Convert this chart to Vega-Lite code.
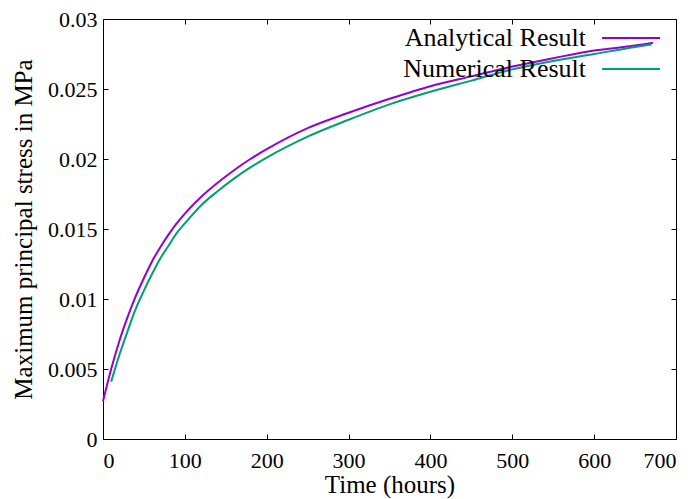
{
  "$schema": "https://vega.github.io/schema/vega-lite/v6.json",
  "width": 573,
  "height": 420,
  "autosize": "none",
  "padding": {"left": 103, "top": 19, "right": 22, "bottom": 60},
  "config": {
    "font": "Liberation Serif",
    "view": {"stroke": "black", "strokeWidth": 1},
    "axis": {
      "grid": false,
      "domain": false,
      "tickColor": "black",
      "tickSize": -5,
      "labelFont": "Liberation Serif",
      "labelFontSize": 22,
      "labelColor": "black",
      "titleFont": "Liberation Serif",
      "titleFontSize": 25,
      "titleFontWeight": "normal",
      "titleColor": "black"
    }
  },
  "data": {
    "values": [
      {"t": 0, "s": 0.0027, "series": "Analytical Result"},
      {"t": 10, "s": 0.005, "series": "Analytical Result"},
      {"t": 20, "s": 0.007, "series": "Analytical Result"},
      {"t": 30, "s": 0.0087, "series": "Analytical Result"},
      {"t": 40, "s": 0.0102, "series": "Analytical Result"},
      {"t": 50, "s": 0.0115, "series": "Analytical Result"},
      {"t": 60, "s": 0.0127, "series": "Analytical Result"},
      {"t": 70, "s": 0.0137, "series": "Analytical Result"},
      {"t": 80, "s": 0.0146, "series": "Analytical Result"},
      {"t": 90, "s": 0.0154, "series": "Analytical Result"},
      {"t": 100, "s": 0.0161, "series": "Analytical Result"},
      {"t": 120, "s": 0.0173, "series": "Analytical Result"},
      {"t": 140, "s": 0.0183, "series": "Analytical Result"},
      {"t": 160, "s": 0.0192, "series": "Analytical Result"},
      {"t": 180, "s": 0.02, "series": "Analytical Result"},
      {"t": 200, "s": 0.0207, "series": "Analytical Result"},
      {"t": 250, "s": 0.0222, "series": "Analytical Result"},
      {"t": 300, "s": 0.0233, "series": "Analytical Result"},
      {"t": 350, "s": 0.0243, "series": "Analytical Result"},
      {"t": 400, "s": 0.0252, "series": "Analytical Result"},
      {"t": 450, "s": 0.0259, "series": "Analytical Result"},
      {"t": 500, "s": 0.0266, "series": "Analytical Result"},
      {"t": 550, "s": 0.0272, "series": "Analytical Result"},
      {"t": 600, "s": 0.02775, "series": "Analytical Result"},
      {"t": 650, "s": 0.0281, "series": "Analytical Result"},
      {"t": 672, "s": 0.0283, "series": "Analytical Result"},
      {"t": 10, "s": 0.0041, "series": "Numerical Result"},
      {"t": 20, "s": 0.006, "series": "Numerical Result"},
      {"t": 30, "s": 0.0077, "series": "Numerical Result"},
      {"t": 40, "s": 0.0093, "series": "Numerical Result"},
      {"t": 50, "s": 0.0106, "series": "Numerical Result"},
      {"t": 60, "s": 0.0118, "series": "Numerical Result"},
      {"t": 70, "s": 0.0129, "series": "Numerical Result"},
      {"t": 80, "s": 0.0138, "series": "Numerical Result"},
      {"t": 90, "s": 0.0147, "series": "Numerical Result"},
      {"t": 100, "s": 0.0154, "series": "Numerical Result"},
      {"t": 120, "s": 0.0167, "series": "Numerical Result"},
      {"t": 140, "s": 0.0177, "series": "Numerical Result"},
      {"t": 160, "s": 0.0186, "series": "Numerical Result"},
      {"t": 180, "s": 0.0194, "series": "Numerical Result"},
      {"t": 200, "s": 0.0201, "series": "Numerical Result"},
      {"t": 250, "s": 0.0216, "series": "Numerical Result"},
      {"t": 300, "s": 0.0228, "series": "Numerical Result"},
      {"t": 350, "s": 0.0239, "series": "Numerical Result"},
      {"t": 400, "s": 0.0248, "series": "Numerical Result"},
      {"t": 450, "s": 0.0256, "series": "Numerical Result"},
      {"t": 500, "s": 0.0264, "series": "Numerical Result"},
      {"t": 550, "s": 0.027, "series": "Numerical Result"},
      {"t": 600, "s": 0.0275, "series": "Numerical Result"},
      {"t": 650, "s": 0.028, "series": "Numerical Result"},
      {"t": 670, "s": 0.02818, "series": "Numerical Result"}
    ]
  },
  "layer": [
    {
      "mark": {"type": "line", "strokeWidth": 2, "interpolate": "monotone"},
      "encoding": {
        "x": {
          "field": "t", "type": "quantitative",
          "scale": {"domain": [0, 700], "nice": false, "zero": false},
          "axis": {"orient": "bottom", "values": [0, 100, 200, 300, 400, 500, 600, 700], "title": "Time (hours)", "labelPadding": 16, "titlePadding": 1}
        },
        "y": {
          "field": "s", "type": "quantitative",
          "scale": {"domain": [0, 0.03], "nice": false, "zero": false},
          "axis": {"orient": "left", "values": [0, 0.005, 0.01, 0.015, 0.02, 0.025, 0.03], "format": "~g", "title": "Maximum principal stress in MPa", "labelPadding": 11, "titlePadding": 11}
        },
        "color": {
          "field": "series", "type": "nominal",
          "scale": {"domain": ["Analytical Result", "Numerical Result"], "range": ["#9400d3", "#009e73"]},
          "legend": {
            "title": null,
            "orient": "none",
            "legendX": 515,
            "legendY": 6,
            "symbolType": "M-3,0H3",
            "symbolSize": 374,
            "symbolStrokeWidth": 2,
            "symbolFillColor": "transparent",
            "labelFont": "Liberation Serif",
            "labelFontSize": 26,
            "labelColor": "black",
            "labelAlign": "right",
            "labelOffset": -58,
            "rowPadding": 5,
            "labelLimit": 400
          }
        }
      }
    },
    {
      "mark": {"type": "line", "strokeOpacity": 0},
      "encoding": {
        "x": {"field": "t", "type": "quantitative", "axis": {"orient": "top", "values": [0, 100, 200, 300, 400, 500, 600, 700], "labels": false, "title": null}},
        "y": {"field": "s", "type": "quantitative", "axis": {"orient": "right", "values": [0, 0.005, 0.01, 0.015, 0.02, 0.025, 0.03], "labels": false, "title": null}},
        "detail": {"field": "series"}
      }
    }
  ],
  "resolve": {"axis": {"x": "independent", "y": "independent"}}
}
